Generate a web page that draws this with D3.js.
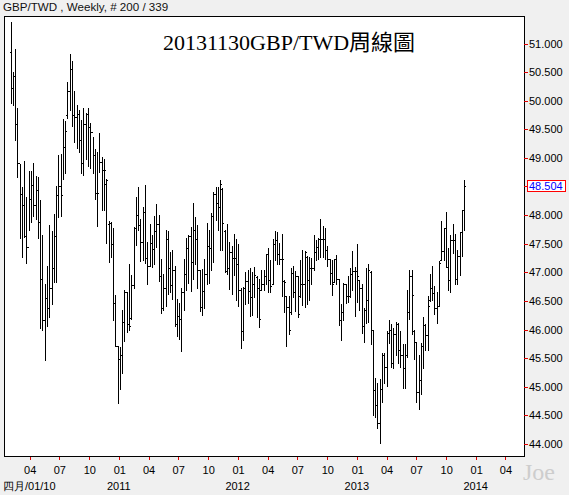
<!DOCTYPE html>
<html>
<head>
<meta charset="utf-8">
<script src="https://cdn.jsdelivr.net/npm/d3@7"></script>
<style>
  body { margin: 0; background: #f0f0f0; }
  svg { display: block; font-family: "Liberation Sans", Arial, sans-serif; }
</style>
</head>
<body>
<svg width="569" height="495"></svg>
<script>
// weekly GBP/TWD, first bar week of 2010-02-01
var firstWeek = new Date(2010, 1, 1);

var opens = [50.85,50.22,50.43,49.60,48.92,48.37,48.18,47.63,47.45,48.29,
  48.53,48.18,48.44,47.88,46.89,46.17,46.56,46.38,46.73,47.07,
  47.64,48.36,48.51,48.36,49.20,49.75,50.17,50.55,49.76,49.71,
  49.77,49.31,48.92,49.59,49.77,49.55,49.46,49.05,48.39,48.39,
  48.93,48.79,48.55,47.85,47.87,47.50,46.47,45.72,45.49,45.55,
  46.14,46.65,46.10,46.20,46.78,47.78,48.00,47.82,47.54,48.05,
  47.26,47.11,47.52,47.41,47.72,47.84,46.93,46.37,46.72,47.58,
  47.08,46.78,47.04,46.10,46.23,46.18,46.65,46.98,47.43,47.63,
  47.19,47.75,47.59,47.05,46.39,46.67,46.98,47.47,47.43,47.98,
  48.37,48.22,48.14,48.45,47.72,47.03,47.08,47.36,47.26,47.26,
  47.14,46.70,45.98,46.72,46.85,46.67,46.57,46.79,46.92,46.72,
  46.70,46.79,46.93,47.33,46.87,46.80,47.50,47.57,47.33,47.24,
  46.85,46.58,46.40,46.30,46.99,46.66,46.93,46.58,46.80,46.80,
  47.27,46.87,47.08,47.08,47.36,47.45,47.59,47.59,47.59,47.39,
  47.24,46.99,46.84,47.23,46.89,46.16,46.30,46.80,46.58,46.59,
  46.97,47.03,47.03,46.86,46.72,46.06,46.35,46.52,47.00,46.00,
  44.95,44.69,44.37,44.97,45.55,45.35,45.94,46.00,45.41,45.93,
  46.09,45.65,45.56,45.32,45.56,46.30,46.93,45.98,45.78,44.91,
  45.12,45.71,46.08,45.90,46.52,46.73,46.64,46.37,46.41,47.22,
  47.37,47.78,47.10,46.86,47.57,47.57,46.89,47.28,47.71,48.09];

var highs = [51.37,50.50,50.90,49.87,48.89,48.50,48.94,48.31,48.77,48.77,
  48.92,48.69,48.67,48.27,47.66,46.80,47.12,47.82,47.72,48.02,
  48.51,49.05,49.07,49.68,49.65,50.33,50.81,50.70,50.17,49.92,
  49.84,49.66,49.87,49.78,49.88,49.62,49.37,49.15,49.10,49.44,
  49.02,48.99,48.63,47.90,47.88,47.77,46.60,45.72,45.70,46.34,
  46.69,46.66,47.14,46.96,47.80,48.32,48.50,47.94,48.14,48.52,
  47.53,47.85,47.65,47.98,48.20,48.00,47.23,46.97,47.74,47.72,
  47.36,47.40,47.11,46.53,46.47,46.73,47.23,47.60,47.65,47.80,
  48.22,47.97,47.83,47.05,47.06,47.23,47.87,47.75,48.03,48.41,
  48.50,48.50,48.61,48.47,47.74,47.84,47.53,47.46,47.67,47.58,
  47.49,46.73,46.75,47.00,47.05,47.07,47.00,47.10,46.93,46.89,
  47.05,47.05,47.33,47.43,47.21,47.59,47.72,47.70,47.52,47.67,
  46.86,46.59,46.58,47.08,47.12,47.03,46.94,47.21,47.39,47.38,
  47.28,47.27,47.26,47.65,47.56,47.61,47.93,47.81,47.77,47.47,
  47.24,47.21,47.24,47.30,46.89,46.44,46.82,46.80,46.93,47.07,
  47.37,47.10,47.49,46.87,46.79,46.38,47.07,47.14,47.02,46.00,
  45.16,45.07,45.14,45.59,45.59,45.97,46.17,46.09,46.02,46.13,
  46.12,45.97,45.75,45.75,46.69,47.05,47.05,46.00,45.78,45.55,
  45.77,46.22,46.10,46.58,46.98,47.11,46.76,46.66,47.20,47.90,
  47.78,48.05,47.43,47.65,47.85,47.68,47.39,47.71,48.09,48.61];

var lows = [49.97,49.93,49.32,48.67,47.60,47.27,47.62,47.17,47.74,47.88,
  47.99,47.94,47.60,46.03,46.00,45.47,46.06,46.22,46.45,46.83,
  46.83,47.96,47.99,48.64,48.74,49.70,49.84,49.56,49.28,49.18,
  49.11,48.73,48.71,48.99,48.86,48.83,48.73,48.29,47.81,48.76,
  48.09,48.09,47.52,47.18,47.27,46.17,45.72,44.71,44.97,45.24,
  45.80,45.95,46.00,46.19,46.73,47.48,47.74,47.20,47.22,47.16,
  46.79,47.11,47.10,47.14,47.45,46.85,46.29,46.34,46.42,46.63,
  46.65,46.54,46.07,45.88,45.84,45.63,46.34,46.70,46.82,46.68,
  46.88,47.14,46.72,46.33,46.26,46.37,46.79,46.82,47.05,47.19,
  47.91,47.74,47.39,47.39,47.00,46.98,46.71,46.63,46.95,46.51,
  46.41,45.67,45.82,46.45,46.47,46.24,46.26,46.57,46.22,46.05,
  46.69,46.69,46.80,46.65,46.66,46.79,47.21,47.15,47.15,46.59,
  46.31,45.71,45.93,46.28,46.57,46.33,46.22,46.57,46.43,46.40,
  46.44,46.51,46.80,47.05,47.21,47.24,47.27,47.27,47.24,47.12,
  46.80,46.61,46.83,46.80,46.08,45.82,46.17,46.47,46.48,46.57,
  46.70,46.24,46.48,46.35,45.94,45.78,46.12,46.13,45.75,44.50,
  44.48,44.28,44.02,44.74,45.07,45.01,45.76,45.35,45.33,45.55,
  45.42,45.35,44.98,44.98,45.52,46.19,45.93,45.49,44.73,44.62,
  44.88,45.32,45.65,45.64,46.50,46.51,46.28,46.12,46.41,47.21,
  47.21,47.09,46.70,46.66,47.34,46.79,46.80,46.95,47.29,47.74];

var closes = [50.22,50.43,49.60,48.92,48.37,48.18,47.63,47.45,48.29,48.53,
  48.18,48.44,47.88,46.89,46.17,46.56,46.38,46.73,47.07,47.64,
  48.36,48.51,48.36,49.20,49.48,50.17,50.55,49.76,49.71,49.77,
  49.31,48.92,49.59,49.77,49.55,49.46,49.05,48.39,48.39,48.93,
  48.79,48.79,48.61,47.87,47.50,46.47,45.72,45.49,45.55,46.14,
  46.65,46.10,46.07,46.78,47.78,48.00,47.82,47.54,48.05,47.26,
  47.11,47.52,47.41,47.72,47.84,46.93,46.37,46.72,47.58,47.08,
  46.78,47.04,46.10,46.23,46.18,46.65,46.98,47.43,47.63,47.19,
  47.75,47.59,47.05,46.39,46.67,46.98,47.47,47.43,47.98,48.37,
  48.22,48.14,48.55,47.87,47.03,47.08,47.36,47.26,47.26,47.14,
  46.70,45.98,46.72,46.85,46.67,46.57,46.79,46.95,46.72,46.19,
  46.79,46.93,47.33,46.87,46.77,47.50,47.57,47.33,47.24,47.24,
  46.83,46.40,45.99,46.99,46.66,46.93,46.28,46.80,46.80,47.36,
  46.87,47.08,47.08,47.36,47.45,47.59,47.59,47.59,47.39,47.24,
  46.99,46.80,47.23,46.89,46.16,46.30,46.80,46.58,46.59,46.97,
  47.03,47.03,46.93,46.72,46.06,46.35,46.52,47.05,46.00,44.95,
  44.69,44.37,44.97,45.55,45.35,45.94,46.00,45.41,45.93,46.09,
  45.65,45.56,45.32,45.56,46.30,46.93,46.60,45.78,44.91,45.12,
  45.71,46.08,45.90,46.42,46.73,46.64,46.37,46.41,47.17,47.37,
  47.78,47.10,46.86,47.57,47.57,46.89,47.28,47.71,48.09,48.504];

var priceTicks = [44, 44.5, 45, 45.5, 46, 46.5, 47, 47.5, 48, 48.5, 49, 49.5, 50, 50.5, 51];
var monthTicks = ["2010-04-01","2010-07-01","2010-10-01","2011-01-01","2011-04-01","2011-07-01",
  "2011-10-01","2012-01-01","2012-04-01","2012-07-01","2012-10-01","2013-01-01","2013-04-01",
  "2013-07-01","2013-10-01","2014-01-01","2014-04-01"];
var yearTicks = ["2011-01-01","2012-01-01","2013-01-01","2014-01-01"];
var firstLabel = "四月/01/10";
var headerText = "GBP/TWD , Weekly, # 200 / 339";
var titleText = "20131130GBP/TWD周線圖";

var parseDay = d3.timeParse("%Y-%m-%d");

var plot = {left: 4, top: 16, right: 524, bottom: 457};

var data = closes.map(function(c, i) {
  return {
    date: d3.timeMonday.offset(firstWeek, i),
    open: opens[i], high: highs[i], low: lows[i], close: c
  };
});

var x = d3.scaleTime()
    .domain([parseDay("2010-01-12"), parseDay("2014-05-28")])
    .range([plot.left, plot.right]);

var y = d3.scaleLinear()
    .domain([44, 51])
    .range([444, 43.6]);

var svg = d3.select("svg");

svg.append("text")
    .attr("x", 3)
    .attr("y", 11)
    .style("font-size", "11.6px")
    .attr("fill", "#111")
    .text(headerText);

svg.append("rect")
    .attr("x", plot.left + 0.5)
    .attr("y", plot.top + 0.5)
    .attr("width", plot.right - plot.left)
    .attr("height", plot.bottom - plot.top - 1)
    .attr("fill", "#fff")
    .attr("stroke", "#000")
    .attr("shape-rendering", "crispEdges");

svg.append("text")
    .attr("x", 289)
    .attr("y", 50)
    .attr("text-anchor", "middle")
    .style("font-family", "'Liberation Serif', 'Times New Roman', 'Noto Sans CJK TC', serif")
    .style("font-size", "22px")
    .attr("fill", "#000")
    .text(titleText);

// OHLC bars
var bars = svg.append("g")
    .attr("class", "ohlc")
    .attr("fill", "#000")
    .attr("shape-rendering", "crispEdges");

var bar = bars.selectAll("g")
    .data(data)
  .enter().append("g");

function px(d) { return Math.round(x(d.date)); }

bar.append("rect")
    .attr("x", px)
    .attr("y", function(d) { return Math.round(y(d.high)); })
    .attr("width", 1)
    .attr("height", function(d) { return Math.round(y(d.low)) - Math.round(y(d.high)) + 1; });

bar.append("rect")
    .attr("x", function(d) { return px(d) - 1; })
    .attr("y", function(d) { return Math.round(y(d.open)); })
    .attr("width", 1)
    .attr("height", 1);

bar.append("rect")
    .attr("x", function(d) { return px(d) + 1; })
    .attr("y", function(d) { return Math.round(y(d.close)); })
    .attr("width", 1)
    .attr("height", 1);

// right price axis
var last = data[data.length - 1].close;

var yAxis = d3.axisRight(y)
    .tickValues(priceTicks.filter(function(v) { return Math.abs(v - last) > 0.1; }))
    .tickFormat(d3.format(".3f"))
    .tickSize(4)
    .tickPadding(1);

var ya = svg.append("g")
    .attr("transform", "translate(" + plot.right + ",0)")
    .call(yAxis);
ya.select(".domain").remove();
ya.selectAll(".tick line").attr("stroke", "#e00000").attr("shape-rendering", "crispEdges");
ya.selectAll(".tick text").style("font-size", "11px").style("font-family", "'Liberation Sans', Arial, sans-serif").attr("fill", "#000");

// last price marker
var lastY = Math.round(y(last));
svg.append("line")
    .attr("x1", plot.right).attr("x2", plot.right + 4)
    .attr("y1", lastY + 0.5).attr("y2", lastY + 0.5)
    .attr("stroke", "#e00000")
    .attr("shape-rendering", "crispEdges");
svg.append("rect")
    .attr("x", 527.5)
    .attr("y", lastY - 5.5)
    .attr("width", 38)
    .attr("height", 11)
    .attr("fill", "#fff")
    .attr("stroke", "#ff0000")
    .attr("shape-rendering", "crispEdges");
svg.append("text")
    .attr("x", 529)
    .attr("y", lastY + 0.5)
    .attr("dy", "0.35em")
    .style("font-size", "11px")
    .attr("fill", "#0000ff")
    .text(d3.format(".3f")(last));

// bottom time axis: months, then years
var xAxis = d3.axisBottom(x)
    .tickValues(monthTicks.map(parseDay))
    .tickFormat(d3.timeFormat("%m"))
    .tickSize(3)
    .tickPadding(6);

var xa = svg.append("g")
    .attr("transform", "translate(0," + plot.bottom + ")")
    .call(xAxis);
xa.select(".domain").remove();
xa.selectAll(".tick line").attr("stroke", "#e00000").attr("shape-rendering", "crispEdges");
xa.selectAll(".tick text").style("font-size", "11px").style("font-family", "'Liberation Sans', Arial, sans-serif").attr("fill", "#000");

var xAxis2 = d3.axisBottom(x)
    .tickValues(yearTicks.map(parseDay))
    .tickFormat(d3.timeFormat("%Y"))
    .tickSize(0)
    .tickPadding(25);

var xa2 = svg.append("g")
    .attr("transform", "translate(-1," + plot.bottom + ")")
    .call(xAxis2);
xa2.select(".domain").remove();
xa2.selectAll(".tick text").style("font-size", "11px").style("font-family", "'Liberation Sans', Arial, sans-serif").attr("fill", "#000");

svg.append("text")
    .attr("x", 3)
    .attr("y", 490)
    .style("font-size", "11px")
    .attr("fill", "#000")
    .text(firstLabel);

svg.append("text")
    .attr("x", 523)
    .attr("y", 480)
    .style("font-family", "'Liberation Serif', 'Times New Roman', serif")
    .style("font-size", "24px")
    .attr("fill", "#cdcdcd")
    .text("Joe");
</script>
</body>
</html>
